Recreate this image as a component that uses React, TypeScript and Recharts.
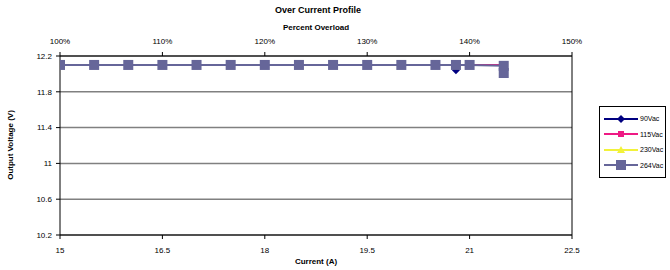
import React from 'react'
import {
  LineChart, Line, XAxis, YAxis, CartesianGrid, ReferenceLine,
} from 'recharts'

const currentTicks = [15, 16.5, 18, 19.5, 21, 22.5]
const overloadTicks = [100, 110, 120, 130, 140, 150]
const voltageTicks = [10.2, 10.6, 11, 11.4, 11.8, 12.2]
const ratedCurrent = 15

const current90 = [15, 15.5, 16, 16.5, 17, 17.5, 18, 18.5, 19, 19.5, 20, 20.5, 20.8, 20.8]
const volts90 = [12.1, 12.1, 12.1, 12.1, 12.1, 12.1, 12.1, 12.1, 12.1, 12.1, 12.1, 12.1, 12.1, 12.04]

const current115 = [15, 15.5, 16, 16.5, 17, 17.5, 18, 18.5, 19, 19.5, 20, 20.5, 21, 21.5]
const volts115 = [12.1, 12.1, 12.1, 12.1, 12.1, 12.1, 12.1, 12.1, 12.1, 12.1, 12.1, 12.1, 12.1, 12.1]

const current230 = [15, 15.5, 16, 16.5, 17, 17.5, 18, 18.5, 19, 19.5, 20, 20.5, 21]
const volts230 = [12.1, 12.1, 12.1, 12.1, 12.1, 12.1, 12.1, 12.1, 12.1, 12.1, 12.1, 12.1, 12.1]

const current264 = [15, 15.5, 16, 16.5, 17, 17.5, 18, 18.5, 19, 19.5, 20, 20.5, 20.8, 21, 21.5, 21.5]
const volts264 = [12.1, 12.1, 12.1, 12.1, 12.1, 12.1, 12.1, 12.1, 12.1, 12.1, 12.1, 12.1, 12.1, 12.1, 12.09, 12.01]

const toRows = (xs: number[], ys: number[]) => xs.map((x, i) => ({ x, v: ys[i] }))

const series = [
  { name: '90Vac', color: '#000080', shape: 'diamond', data: toRows(current90, volts90) },
  { name: '115Vac', color: '#ee1a84', shape: 'square', data: toRows(current115, volts115) },
  { name: '230Vac', color: '#f2f23a', shape: 'triangle', data: toRows(current230, volts230) },
  { name: '264Vac', color: '#666699', shape: 'bigsquare', data: toRows(current264, volts264) },
]

// top axis shares the current scale; 15 A = 100 %
const overloadAsCurrent = overloadTicks.map((p) => (p * ratedCurrent) / 100)

const font = 'Liberation Sans, Arial, sans-serif'

function Marker({ cx, cy, shape, color }: any) {
  if (cx == null || cy == null) return null
  if (shape === 'diamond') {
    return <path d={`M${cx},${cy - 4}L${cx + 4},${cy}L${cx},${cy + 4}L${cx - 4},${cy}Z`} fill={color} />
  }
  if (shape === 'triangle') {
    return <path d={`M${cx},${cy - 4}L${cx + 4},${cy + 3}L${cx - 4},${cy + 3}Z`} fill={color} />
  }
  const s = shape === 'bigsquare' ? 5 : 3
  return <rect x={cx - s} y={cy - s} width={s * 2} height={s * 2} fill={color} />
}

const LegendBox = () => (
  <div style={{
    position: 'absolute', left: 599, top: 106, width: 67, padding: '4px 0',
    border: '1px solid #000', background: '#fff', boxSizing: 'border-box',
    fontFamily: font, fontSize: 7, color: '#000',
  }}>
    {series.map((s) => (
      <div key={s.name} style={{ display: 'flex', alignItems: 'center', height: 15.5 }}>
        <svg width={36} height={12} style={{ marginLeft: 4 }}>
          <line x1={0} y1={6} x2={34} y2={6} stroke={s.color} strokeWidth={2} />
          <Marker cx={17} cy={6} shape={s.shape} color={s.color} />
        </svg>
        <span>{s.name}</span>
      </div>
    ))}
  </div>
)

const tickStyle = { fill: '#000', fontSize: 8, fontFamily: font }

export default function App() {
  return (
    <div style={{ position: 'absolute', left: 0, top: 0, width: 670, height: 270, background: '#fff' }}>
      <div style={{
        position: 'absolute', left: 0, width: 636, top: 5, textAlign: 'center',
        fontFamily: font, fontSize: 9, fontWeight: 'bold',
      }}>Over Current Profile</div>
      <div style={{
        position: 'absolute', left: 0, width: 632, top: 23, textAlign: 'center',
        fontFamily: font, fontSize: 8, fontWeight: 'bold',
      }}>Percent Overload</div>
      <div style={{
        position: 'absolute', left: 0, width: 632, top: 257, textAlign: 'center',
        fontFamily: font, fontSize: 8, fontWeight: 'bold',
      }}>Current (A)</div>
      <div style={{
        position: 'absolute', left: 10, top: 145, transform: 'translate(-50%, -50%) rotate(-90deg)',
        fontFamily: font, fontSize: 8, fontWeight: 'bold', whiteSpace: 'nowrap',
      }}>Output Voltage (V)</div>
      <LineChart
        width={670} height={270} data={series[3].data}
        margin={{ top: 32, right: 98, bottom: 9, left: 8 }}
      >
        <CartesianGrid vertical={false} stroke="#808080" strokeWidth={1.5} />
        <XAxis
          xAxisId="bottom" type="number" dataKey="x" domain={[15, 22.5]} ticks={currentTicks}
          tick={tickStyle} height={26} stroke="#000" tickSize={4} tickMargin={8}
          interval={0} allowDataOverflow
        />
        <XAxis
          xAxisId="top" orientation="top" type="number" dataKey="x" domain={[15, 22.5]}
          ticks={overloadAsCurrent} tick={tickStyle}
          tickFormatter={(v: number) => `${Math.round((v / ratedCurrent) * 100)}%`}
          height={24} stroke="#000" tickSize={4} tickMargin={8} interval={0} allowDataOverflow
        />
        <YAxis
          type="number" domain={[10.2, 12.2]} ticks={voltageTicks} tick={tickStyle}
          width={52} stroke="#000" tickSize={4} tickMargin={4} interval={0}
        />
        <ReferenceLine xAxisId="bottom" x={22.5} stroke="#000" strokeWidth={1} />
        {series.map((s) => (
          <Line
            key={s.name} xAxisId="bottom" data={s.data} dataKey="v" name={s.name}
            stroke={s.color} strokeWidth={2} isAnimationActive={false}
            dot={(p: any) => <Marker key={`${s.name}-${p.index}`} cx={p.cx} cy={p.cy} shape={s.shape} color={s.color} />}
            activeDot={false}
          />
        ))}
      </LineChart>
      <LegendBox />
    </div>
  )
}
